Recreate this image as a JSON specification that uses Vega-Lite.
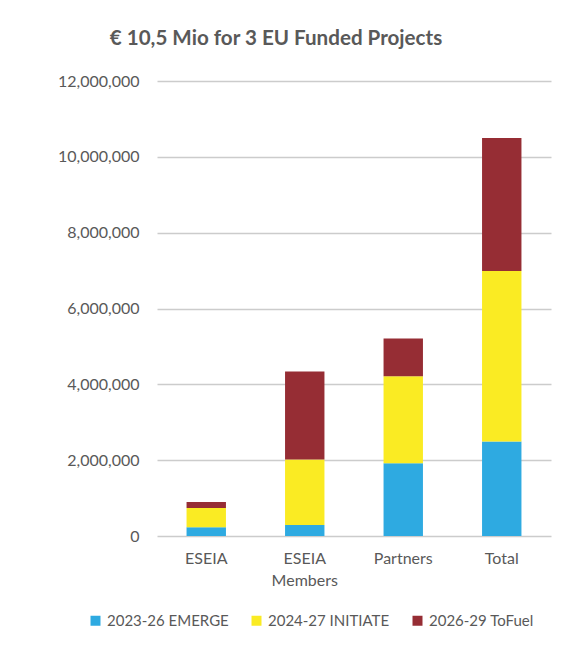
{
  "$schema": "https://vega.github.io/schema/vega-lite/v6.json",
  "width": 394,
  "height": 455,
  "autosize": {"type": "none"},
  "padding": {"left": 157, "top": 81, "right": 37, "bottom": 109},
  "background": "white",
  "title": {
    "text": "€ 10,5 Mio for 3 EU Funded Projects",
    "anchor": "middle",
    "dx": -78,
    "offset": 23,
    "font": "Lato",
    "fontSize": 20.6,
    "fontWeight": "bold",
    "color": "#595959"
  },
  "data": {
    "values": [
      {"category": "ESEIA", "project": "2023-26 EMERGE", "k": 1, "amount": 230000},
      {"category": "ESEIA", "project": "2024-27 INITIATE", "k": 2, "amount": 510000},
      {"category": "ESEIA", "project": "2026-29 ToFuel", "k": 3, "amount": 160000},
      {"category": "ESEIA Members", "project": "2023-26 EMERGE", "k": 1, "amount": 290000},
      {"category": "ESEIA Members", "project": "2024-27 INITIATE", "k": 2, "amount": 1730000},
      {"category": "ESEIA Members", "project": "2026-29 ToFuel", "k": 3, "amount": 2320000},
      {"category": "Partners", "project": "2023-26 EMERGE", "k": 1, "amount": 1920000},
      {"category": "Partners", "project": "2024-27 INITIATE", "k": 2, "amount": 2290000},
      {"category": "Partners", "project": "2026-29 ToFuel", "k": 3, "amount": 1000000},
      {"category": "Total", "project": "2023-26 EMERGE", "k": 1, "amount": 2490000},
      {"category": "Total", "project": "2024-27 INITIATE", "k": 2, "amount": 4500000},
      {"category": "Total", "project": "2026-29 ToFuel", "k": 3, "amount": 3510000}
    ]
  },
  "mark": {"type": "bar"},
  "encoding": {
    "x": {
      "field": "category",
      "type": "nominal",
      "sort": null,
      "scale": {"paddingInner": 0.6, "paddingOuter": 0.3},
      "axis": {
        "title": null,
        "labelAngle": 0,
        "domain": false,
        "ticks": false,
        "labelPadding": 14,
        "labelFont": "Lato",
        "labelFontSize": 16,
        "labelColor": "#595959",
        "labelLineHeight": 22,
        "labelExpr": "datum.label == 'ESEIA Members' ? ['ESEIA', 'Members'] : datum.label"
      }
    },
    "y": {
      "field": "amount",
      "type": "quantitative",
      "stack": "zero",
      "scale": {"domain": [0, 12000000], "nice": false},
      "axis": {
        "title": null,
        "values": [0, 2000000, 4000000, 6000000, 8000000, 10000000, 12000000],
        "format": ",d",
        "domain": false,
        "ticks": false,
        "labelPadding": 18,
        "labelFont": "Lato",
        "labelFontSize": 16,
        "labelColor": "#595959",
        "gridColor": "#CCCCCC",
        "gridWidth": 1.5
      }
    },
    "color": {
      "field": "project",
      "type": "nominal",
      "scale": {
        "domain": ["2023-26 EMERGE", "2024-27 INITIATE", "2026-29 ToFuel"],
        "range": ["#2EAAE1", "#FAEB23", "#962D34"]
      },
      "legend": {
        "title": null,
        "orient": "none",
        "direction": "horizontal",
        "legendX": -69,
        "legendY": 532,
        "symbolType": "square",
        "symbolSize": 100,
        "symbolStrokeWidth": 0,
        "symbolOpacity": 1,
        "columnPadding": 20,
        "labelFont": "Lato",
        "labelFontSize": 15,
        "labelColor": "#595959",
        "labelOffset": 4
      }
    },
    "order": {"field": "k", "type": "quantitative"}
  },
  "config": {
    "view": {"stroke": null}
  }
}
